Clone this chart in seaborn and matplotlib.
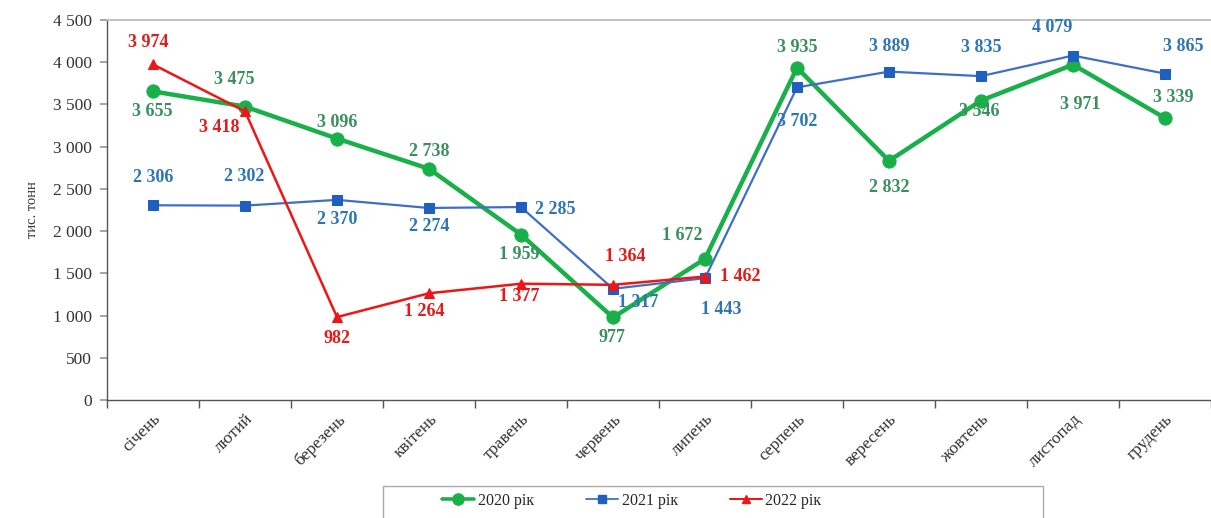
import matplotlib
matplotlib.use("Agg")
import matplotlib.pyplot as plt
import matplotlib.ticker as mticker
from matplotlib.lines import Line2D
from matplotlib.patches import Rectangle
import seaborn as sns
import pandas as pd

months = ["січень", "лютий", "березень", "квітень", "травень", "червень",
          "липень", "серпень", "вересень", "жовтень", "листопад", "грудень"]
v2020 = [3655, 3475, 3096, 2738, 1959, 977, 1672, 3935, 2832, 3546, 3971, 3339]
v2021 = [2306, 2302, 2370, 2274, 2285, 1317, 1443, 3702, 3889, 3835, 4079, 3865]
v2022 = [3974, 3418, 982, 1264, 1377, 1364, 1462]
series_names = ["2020 рік", "2021 рік", "2022 рік"]

# label offsets in pixels (dx, dy)
off2020 = [(-1, -20), (-11, 27), (0, 16), (0, 17), (-2, -20), (-1, -20),
           (-23, 23), (0, 20), (0, -27), (-2, -11), (7, -40), (8, 21)]
off2021 = [(0, 28), (-1, 29), (0, -20), (0, -19), (34, -2), (25, -14),
           (16, -31), (0, -34), (0, 25), (0, 29), (-21, 28), (18, 27)]
off2022 = [(-5, 22), (-26, -16), (0, -21), (-5, -18), (-2, -13), (12, 28), (35, 0)]

sns.set_theme(style="white")
plt.rcParams["font.family"] = ["Liberation Serif", "DejaVu Serif"]

fig = plt.figure(figsize=(12.11, 5.18), dpi=100)
ax = fig.add_axes([107 / 1211, 118 / 518, 1104 / 1211, 380 / 518])

styles = [
    dict(color="#19B04A", text="#3A8F5E", marker="o", lw=3.2, ms=9.5),
    dict(color="#3F6FC4", text="#2E75B6", marker="s", lw=1.6, ms=7.5),
    dict(color="#F01515", text="#E31A1A", marker="^", lw=1.8, ms=7.5),
]
datas = [v2020, v2021, v2022]
offs = [off2020, off2021, off2022]

frames = []
for name, vals in zip(series_names, datas):
    frames.append(pd.DataFrame({"x": range(len(vals)), "y": vals, "s": name}))
df = pd.concat(frames)

for name, vals, st, of in zip(series_names, datas, styles, offs):
    d = df[df["s"] == name]
    mcol = "#1F5FC0" if st["marker"] == "s" else st["color"]
    sns.lineplot(data=d, x="x", y="y", ax=ax, color=st["color"], lw=st["lw"],
                 marker=st["marker"], markersize=st["ms"], markerfacecolor=mcol,
                 markeredgecolor=mcol, legend=False, zorder=3)
    for i, v in enumerate(vals):
        lab = f"{v:,}".replace(",", " ")
        ax.annotate(lab, (i, v), xytext=of[i], textcoords="offset pixels",
                    ha="center", va="center", color=st["text"],
                    fontsize=13, fontweight="bold", zorder=5)

ax.set_xlim(-0.5, 11.5)
ax.set_ylim(0, 4500)
ax.yaxis.set_major_locator(mticker.MultipleLocator(500))
ax.yaxis.set_major_formatter(mticker.FuncFormatter(lambda v, p: f"{int(v):,}".replace(",", " ")))
ax.set_xticks(range(12))
ax.set_xticklabels(months, rotation=45, ha="right", rotation_mode="anchor", fontsize=12.5)
ax.set_xticks([i + 0.5 for i in range(-1, 12)], minor=True)
ax.tick_params(axis="x", which="major", length=0, pad=8)
ax.tick_params(axis="x", which="minor", length=6, color="#555555", direction="out", bottom=True)
ax.tick_params(axis="y", length=5, color="#999999", direction="out", left=True, labelsize=12.5, pad=6)
for lbl in ax.get_yticklabels():
    lbl.set_color("#333333")
for lbl in ax.get_xticklabels():
    lbl.set_color("#333333")
ax.set_xlabel("")
ax.set_ylabel("тис. тонн", fontsize=10.5, color="#333333", labelpad=10)
ax.grid(False)
for sp in ["left", "bottom"]:
    ax.spines[sp].set_color("#555555")
    ax.spines[sp].set_linewidth(1.0)
ax.spines["top"].set_color("#BBBBBB")
ax.spines["right"].set_visible(False)

# legend
handles = [Line2D([0], [0], color=st["color"], lw=st["lw"] * 0.8, marker=st["marker"],
                  markersize=st["ms"] * 0.85,
                  markerfacecolor=("#1F5FC0" if st["marker"] == "s" else st["color"]),
                  markeredgecolor=("#1F5FC0" if st["marker"] == "s" else st["color"]))
           for st in styles]
fig.legend(handles, series_names, loc="center", bbox_to_anchor=(632 / 1211, 1 - 501 / 518),
           ncol=3, frameon=False, fontsize=11.5, handlelength=2.0, handletextpad=0.2,
           columnspacing=3.3)
fig.patches.append(Rectangle((383 / 1211, -0.05), 660 / 1211, 0.05 + 32 / 518,
                             transform=fig.transFigure, fill=False,
                             edgecolor="#AAAAAA", lw=1.0))

fig.savefig("out.png", dpi=100)
